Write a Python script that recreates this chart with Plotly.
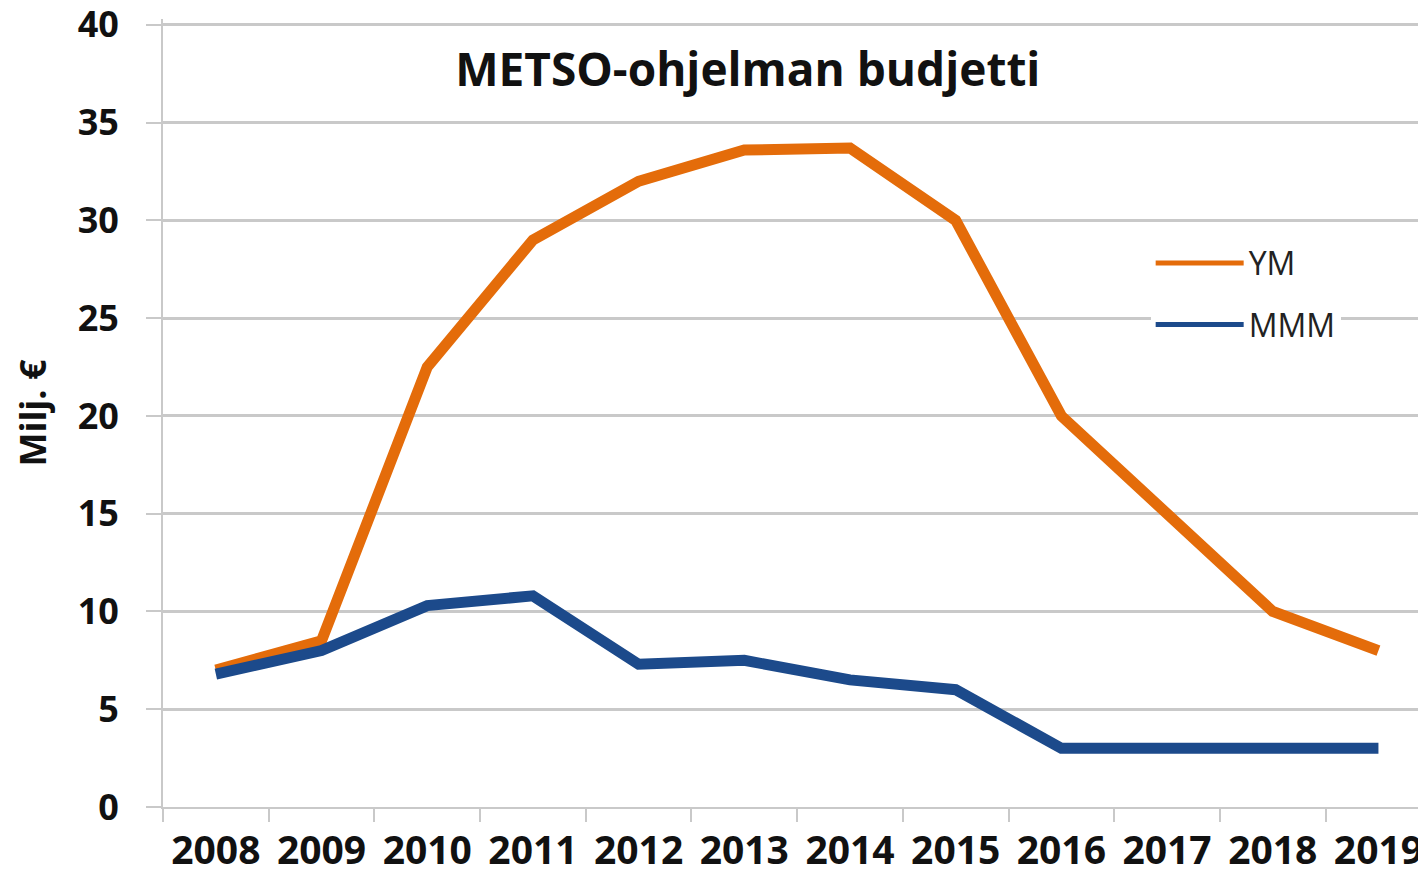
import plotly.graph_objects as go

years = ["2008", "2009", "2010", "2011", "2012", "2013", "2014", "2015", "2016", "2017", "2018", "2019"]
ym = [7.0, 8.5, 22.5, 29.0, 32.0, 33.6, 33.7, 30.0, 20.0, 15.0, 10.0, 8.0]
mmm = [6.8, 8.0, 10.3, 10.8, 7.3, 7.5, 6.5, 6.0, 3.0, 3.0, 3.0, 3.0]
series_names = ["YM", "MMM"]
y_ticks = [0, 5, 10, 15, 20, 25, 30, 35, 40]

ORANGE = "#E46C0A"
BLUE = "#1C4A8B"
GRID = "#C9C9C9"
FONT = "Open Sans"
TXT = "#111111"

fig = go.Figure()
fig.add_trace(go.Scatter(x=years, y=ym, name=series_names[0], mode="lines",
                         line=dict(color=ORANGE, width=11), legendgroup="a"))
fig.add_trace(go.Scatter(x=years, y=mmm, name=series_names[1], mode="lines",
                         line=dict(color=BLUE, width=11), legendgroup="b"))

fig.update_layout(
    width=1418, height=869,
    margin=dict(l=155, r=0, t=11, b=70, autoexpand=False),
    paper_bgcolor="white", plot_bgcolor="white",
    font=dict(family=FONT, color=TXT),
    title=dict(text="METSO-ohjelman budjetti",
               font=dict(family=FONT, size=46, color=TXT, weight="bold"),
               xref="paper", x=0.463, xanchor="center", yref="container", y=0.929, yanchor="middle"),
    showlegend=True,
    legend=dict(x=0.782, y=0.725, xanchor="left", yanchor="top", bgcolor="white",
                font=dict(family=FONT, size=32, color="#222222"), itemwidth=88,
                tracegroupgap=17, itemsizing="constant"),
    xaxis=dict(type="category", range=[-0.5, 11.45], tickson="boundaries", ticks="outside",
               ticklen=13, tickwidth=2, tickcolor=GRID, showgrid=False, showline=True,
               linecolor=GRID, linewidth=2, automargin=False, ticklabeloverflow="allow",
               tickfont=dict(family=FONT, size=39, color=TXT, weight="bold"),
               ticklabelstandoff=8),
    yaxis=dict(range=[0, 40.3], tickvals=y_ticks, ticks="outside", ticklen=15, tickwidth=2,
               tickcolor=GRID, showgrid=True, gridcolor=GRID, gridwidth=2.5, showline=True,
               linecolor=GRID, linewidth=2, zeroline=False, automargin=False,
               ticklabeloverflow="allow",
               tickfont=dict(family=FONT, size=36, color=TXT, weight="bold"), ticklabelstandoff=20,
               title=dict(text="Milj. €", font=dict(family=FONT, size=36, color=TXT, weight="bold"),
                          standoff=28)),
)

fig.write_html("out.html")
